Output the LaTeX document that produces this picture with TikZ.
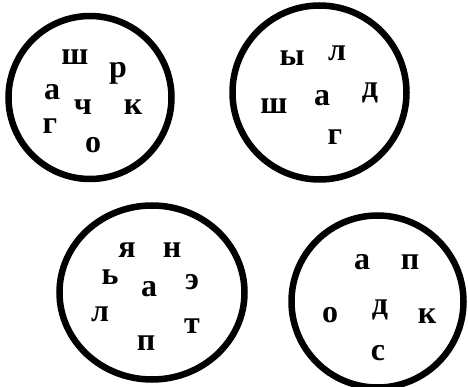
\documentclass[tikz,border=0pt]{standalone}
\usepackage{fontspec}
\setmainfont{Liberation Serif}
\usetikzlibrary{positioning}

\tikzset{
  ring/.style={line width=6.5pt},
  lettr/.style={inner sep=0pt, text height=14.5pt, text depth=0pt,
    font=\bfseries\fontsize{32}{32}\selectfont}
}

\begin{document}
\begin{tikzpicture}[x=1pt,y=-1pt]
  \useasboundingbox (0,0) rectangle (468,387);

  % the four rings
  \coordinate (ringA) at (90,97.5);
  \coordinate (ringB) at (319.5,92.5);
  \coordinate (ringC) at (152,292.5);
  \coordinate (ringD) at (377.5,301.5);
  \draw[ring] (ringA) ellipse[x radius=81.5, y radius=81.5];
  \draw[ring] (ringB) ellipse[x radius=87, y radius=87];
  \draw[ring] (ringC) ellipse[x radius=92.5, y radius=87];
  \draw[ring] (ringD) ellipse[x radius=86, y radius=86];

  % first ring
  \node[lettr] (a1) at (75,57) {ш};
  \node[lettr] (a2) at (118,70) {р};
  \node[lettr] (a3) at (52,92) {а};
  \node[lettr] (a4) at (83,107) {ч};
  \node[lettr] (a5) at (133,107) {к};
  \node[lettr] (a6) at (50,126) {г};
  \node[lettr] (a7) at (93,145) {о};

  % second ring
  \node[lettr] (b1) at (292,58) {ы};
  \node[lettr] (b2) at (337,53) {л};
  \node[lettr] (b3) at (370,90) {д};
  \node[lettr] (b4) at (322,98) {а};
  \node[lettr] (b5) at (274,106) {ш};
  \node[lettr] (b6) at (335,137) {г};

  % third ring
  \node[lettr] (c1) at (127,250) {я};
  \node[lettr] (c2) at (172,250) {н};
  \node[lettr] (c3) at (110,277) {ь};
  \node[lettr] (c4) at (149,289) {а};
  \node[lettr] (c5) at (192,282) {э};
  \node[lettr] (c6) at (100,314) {л};
  \node[lettr] (c7) at (192,326) {т};
  \node[lettr] (c8) at (146,343) {п};

  % fourth ring
  \node[lettr] (d1) at (362,262) {а};
  \node[lettr] (d2) at (410,262) {п};
  \node[lettr] (d3) at (330,315) {о};
  \node[lettr] (d4) at (380,307) {д};
  \node[lettr] (d5) at (427,316) {к};
  \node[lettr] (d6) at (378,353) {с};
\end{tikzpicture}
\end{document}
